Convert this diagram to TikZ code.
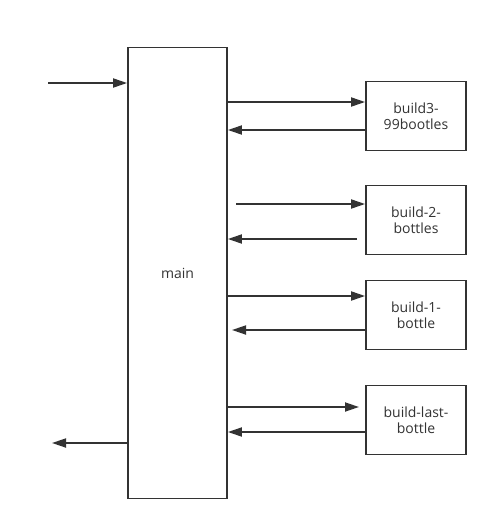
\documentclass[tikz,border=0pt]{standalone}
\usepackage{fontspec}
\setmainfont{Open Sans}
\usetikzlibrary{arrows.meta}
\definecolor{ink}{HTML}{333333}
\tikzset{
  box/.style={draw=ink, line width=1.8pt, fill=white, align=center, inner sep=0pt,
    font=\fontsize{14}{16}\selectfont, text=ink},
  sub/.style={box, minimum width=100pt, minimum height=69pt},
  arr/.style={draw=ink, line width=1.8pt, -{Triangle[length=14pt,width=9pt]}}
}
\begin{document}
\begin{tikzpicture}[x=1pt,y=-1pt]
\useasboundingbox (0,0) rectangle (498,531);
\node[box, minimum width=99pt, minimum height=451pt] (main) at (177.5,273) {main};
\node[sub] (b1) at (416,116) {build3-\\99bootles};
\node[sub] (b2) at (416,220) {build-2-\\bottles};
\node[sub] (b3) at (416,315) {build-1-\\bottle};
\node[sub] (b4) at (416,420) {build-last-\\bottle};
\coordinate (in) at (48,83);
\coordinate (out) at (52,443);
\coordinate (s2) at (236,204);
\coordinate (r2) at (357,239);
\coordinate (t3) at (232,330);
\coordinate (t4) at (359,407);
% input / output
\draw[arr] (in) -- (main.west |- in);
\draw[arr] (main.west |- out) -- (out);
% box 1
\draw[arr] (main.east |- 0,102) -- (b1.west |- 0,102);
\draw[arr] (b1.west |- 0,130) -- (main.east |- 0,130);
% box 2
\draw[arr] (s2) -- (b2.west |- s2);
\draw[arr] (r2) -- (main.east |- r2);
% box 3
\draw[arr] (main.east |- 0,296) -- (b3.west |- 0,296);
\draw[arr] (b3.west |- t3) -- (t3);
% box 4
\draw[arr] (main.east |- t4) -- (t4);
\draw[arr] (b4.west |- 0,432) -- (main.east |- 0,432);
\end{tikzpicture}
\end{document}
